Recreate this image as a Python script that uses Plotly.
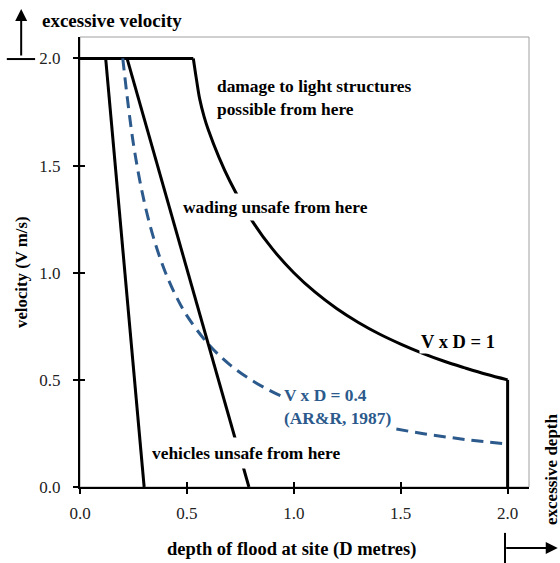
import plotly.graph_objects as go

# ---- data ----
vehicles_d = [0.12, 0.30]
vehicles_v = [2.0, 0.0]

wading_d = [0.22, 0.79]
wading_v = [2.0, 0.0]

damage_d = [0.0, 0.53, 0.545, 0.56, 0.58, 0.60, 0.65, 0.70, 0.80, 0.90, 1.00, 1.10, 1.20, 1.30, 1.40, 1.50, 1.60, 1.70, 1.80, 1.90, 2.00, 2.00]
damage_v = [2.0, 2.0, 1.90, 1.81, 1.73, 1.667, 1.538, 1.429, 1.25, 1.111, 1.0, 0.909, 0.833, 0.769, 0.714, 0.667, 0.625, 0.588, 0.556, 0.526, 0.50, 0.0]

arr_d = [0.20, 0.25, 0.30, 0.35, 0.40, 0.45, 0.50, 0.60, 0.70, 0.80, 0.90, 1.00, 1.20, 1.40, 1.60, 1.80, 2.00]
arr_v = [2.0, 1.6, 1.333, 1.143, 1.0, 0.889, 0.8, 0.667, 0.571, 0.5, 0.444, 0.4, 0.333, 0.286, 0.25, 0.222, 0.2]

tick_vals = [0.0, 0.5, 1.0, 1.5, 2.0]
tick_text = ["0.0", "0.5", "1.0", "1.5", "2.0"]

BLUE = "#2C5A8C"
FONT = "'Liberation Serif', 'Times New Roman', 'DejaVu Serif', serif"

fig = go.Figure()
# damage curve: straight top segment, then smooth curve, then vertical drop
fig.add_trace(go.Scatter(x=damage_d[:2], y=damage_v[:2], mode="lines",
                         line=dict(color="black", width=3), showlegend=False))
fig.add_trace(go.Scatter(x=damage_d[1:-1], y=damage_v[1:-1], mode="lines", line_shape="spline",
                         line=dict(color="black", width=3), showlegend=False))
fig.add_trace(go.Scatter(x=damage_d[-2:], y=damage_v[-2:], mode="lines",
                         line=dict(color="black", width=3), showlegend=False))
fig.add_trace(go.Scatter(x=arr_d, y=arr_v, mode="lines", line_shape="spline",
                         line=dict(color=BLUE, width=3, dash="12px,7px"), showlegend=False))
fig.add_trace(go.Scatter(x=wading_d, y=wading_v, mode="lines",
                         line=dict(color="black", width=3), showlegend=False))
fig.add_trace(go.Scatter(x=vehicles_d, y=vehicles_v, mode="lines",
                         line=dict(color="black", width=3), showlegend=False))
# empty trace to create the overlay axes that provide inside ticks
fig.add_trace(go.Scatter(x=[], y=[], xaxis="x2", yaxis="y2", showlegend=False))

axis_common = dict(range=[0, 2.1], tickvals=tick_vals, ticktext=tick_text,
                   showgrid=False, zeroline=False)

fig.update_layout(
    width=560, height=563,
    margin=dict(l=80, r=31, t=37, b=76),
    paper_bgcolor="white", plot_bgcolor="white",
    font=dict(family=FONT, size=16, color="black"),
    xaxis=dict(**axis_common, showline=True, linecolor="black", linewidth=2,
               ticks="outside", ticklen=5, tickwidth=1.5, tickcolor="black",
               ticklabelstandoff=5, tickfont=dict(family=FONT, size=17, color="#222")),
    yaxis=dict(**axis_common, showline=True, linecolor="black", linewidth=2,
               ticks="outside", ticklen=5, tickwidth=1.5, tickcolor="black",
               ticklabelstandoff=9, tickfont=dict(family=FONT, size=17, color="#222")),
    xaxis2=dict(**axis_common, overlaying="x", anchor="y2", side="bottom",
                ticks="inside", ticklen=5, tickwidth=1.5, tickcolor="black",
                showticklabels=False, showline=False),
    yaxis2=dict(**axis_common, overlaying="y", anchor="x2", side="left",
                ticks="inside", ticklen=5, tickwidth=1.5, tickcolor="black",
                showticklabels=False, showline=False),
)

# grey frame (top/right)
fig.add_shape(type="rect", xref="paper", yref="paper", x0=0, x1=1, y0=0, y1=1,
              line=dict(color="#a0a0a0", width=1), layer="below")
# velocity bar
fig.add_shape(type="line", xref="paper", yref="paper", x0=-0.163, x1=-0.100,
              y0=0.951, y1=0.951, line=dict(color="black", width=2))
# depth bar
fig.add_shape(type="line", xref="paper", yref="paper", x0=0.9465, x1=0.9465,
              y0=-0.102, y1=-0.175, line=dict(color="black", width=2))

# arrows
fig.add_annotation(xref="paper", yref="paper", x=-0.131, y=1.062, ax=0, ay=48,
                   text="", showarrow=True, arrowhead=2, arrowsize=1.2,
                   arrowwidth=2, arrowcolor="black")
fig.add_annotation(xref="paper", yref="paper", x=1.064, y=-0.1356, ax=-53, ay=0,
                   text="", showarrow=True, arrowhead=2, arrowsize=1.2,
                   arrowwidth=2, arrowcolor="black")

fig.add_annotation(xref="paper", yref="paper", x=-0.089, y=1.036, xanchor="left",
                   yanchor="middle", text="<b>excessive velocity</b>", showarrow=False,
                   font=dict(family=FONT, size=19, color="black"))
fig.add_annotation(xref="paper", yref="paper", x=1.049, y=0.04, xanchor="center",
                   yanchor="middle", text="<b>excessive depth</b>", textangle=-90,
                   showarrow=False, font=dict(family=FONT, size=17, color="black"))
fig.add_annotation(xref="paper", yref="paper", x=-0.129, y=0.478, xanchor="center",
                   yanchor="middle", text="<b>velocity (V m/s)</b>", textangle=-90,
                   showarrow=False, font=dict(family=FONT, size=16.8, color="black"))
fig.add_annotation(xref="paper", yref="paper", x=0.47, y=-0.138, xanchor="center",
                   yanchor="middle", text="<b>depth of flood at site (D metres)</b>",
                   showarrow=False, font=dict(family=FONT, size=18.5, color="black"))

lab = dict(family=FONT, size=17.4, color="black")
fig.add_annotation(x=0.631, y=1.818, xanchor="left", yanchor="middle", align="left",
                   text="<b>damage to light structures<br>possible from here</b>",
                   showarrow=False, font=lab, bgcolor="white", borderpad=1)
fig.add_annotation(x=0.462, y=1.308, xanchor="left", yanchor="middle",
                   text="<b>wading unsafe from here</b>", showarrow=False, font=lab,
                   bgcolor="white", borderpad=3)
fig.add_annotation(x=1.585, y=0.679, xanchor="left", yanchor="middle",
                   text="<b>V x D = 1</b>", showarrow=False,
                   font=dict(family=FONT, size=18.5, color="black"),
                   bgcolor="white", borderpad=1)
fig.add_annotation(x=0.94, y=0.378, xanchor="left", yanchor="middle", align="left",
                   text="<b>V x D = 0.4<br>(AR&R, 1987)</b>", showarrow=False,
                   font=dict(family=FONT, size=17.4, color=BLUE),
                   bgcolor="white", borderpad=2)
fig.add_annotation(x=0.307, y=0.159, xanchor="left", yanchor="middle",
                   text="<b>vehicles unsafe from here</b>", showarrow=False, font=lab,
                   bgcolor="white", borderpad=5)

fig.write_html("out.html")
